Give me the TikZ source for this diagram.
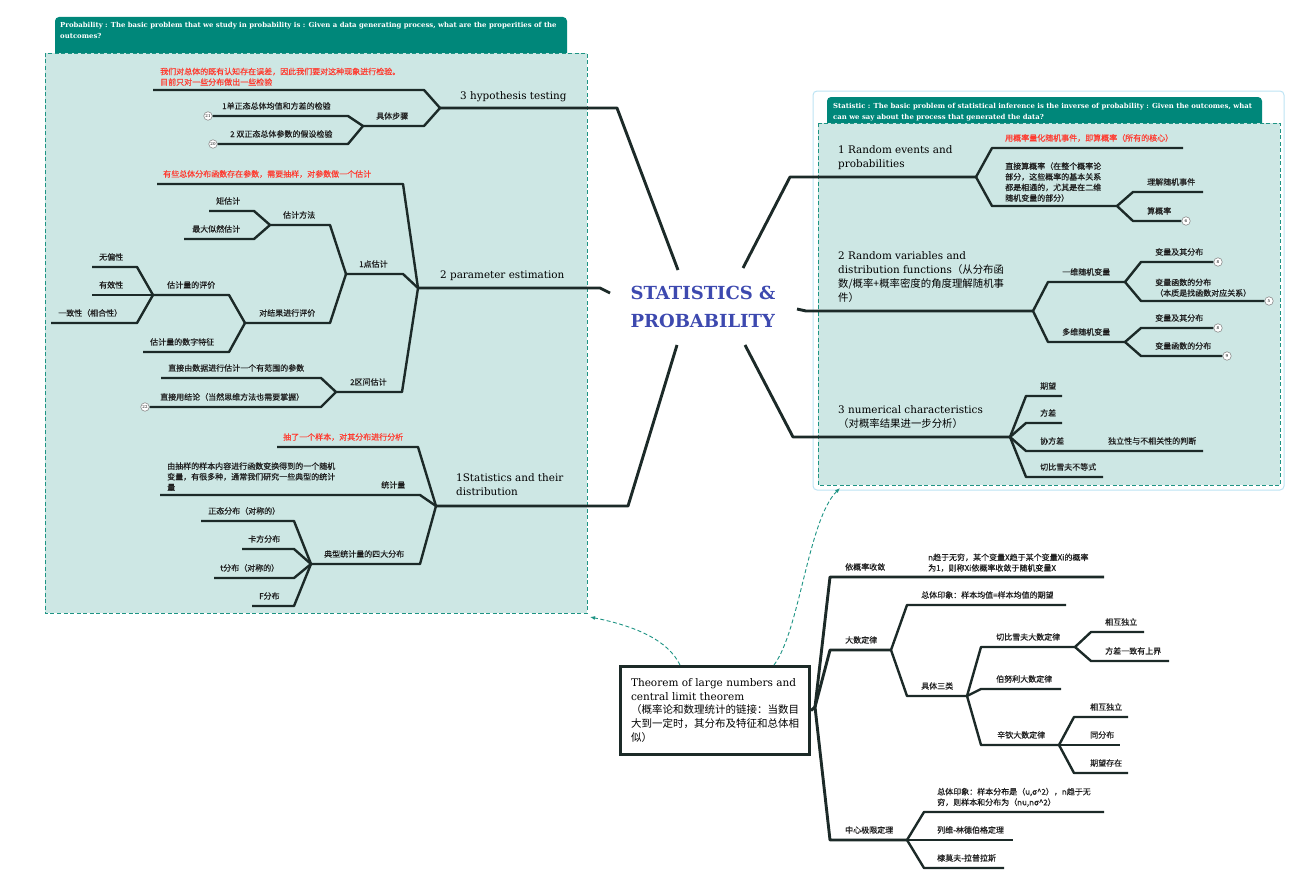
\documentclass[tikz,border=0pt]{standalone}
\usepackage{fontspec}
\setmainfont{DejaVu Serif}
\newfontfamily\cjk{Noto Sans CJK SC}
\newfontfamily\cjkb[FakeBold=0.5]{Noto Sans CJK SC}
\newcommand{\zh}[1]{{\cjk #1}}
\usetikzlibrary{arrows.meta}
\definecolor{linec}{HTML}{1C2A28}
\definecolor{hdrc}{HTML}{00877A}
\definecolor{regc}{HTML}{CDE7E4}
\definecolor{dashc}{HTML}{1E9484}
\definecolor{redt}{HTML}{FF3B30}
\definecolor{titlec}{HTML}{3D49AF}
\definecolor{outc}{HTML}{BDE4F4}
\begin{document}
\begin{tikzpicture}[x=1pt,y=-1pt,
    br/.style={draw=linec,line width=2.4pt,line join=round},
    trunk/.style={br,line width=2.9pt},
    lb/.style={font=\cjkb\fontsize{8}{10.6}\selectfont,text=black!88,anchor=base west,inner sep=0pt,align=left},
    rd/.style={lb,text=redt},
    hd/.style={font=\fontsize{10.4}{14}\selectfont,anchor=base west,inner sep=0pt,align=left},
    hdr/.style={font=\bfseries\fontsize{6.9}{11}\selectfont,text=white,anchor=base west,inner sep=0pt,align=left},
    region/.style={draw=dashc,fill=regc,dash pattern=on 4pt off 2.5pt,line width=0.9pt},
    numc/.style={circle,draw=black!45,fill=white,line width=0.6pt,minimum size=8.5pt,inner sep=0pt,font=\fontsize{4}{4}\selectfont},
    link/.style={draw=dashc,dash pattern=on 4pt off 2.5pt,line width=0.9pt,-{Latex[length=5pt,width=4pt]}}]
\useasboundingbox (0,0) rectangle (1303,883);
\fill[hdrc,rounded corners=4pt] (55,60) rectangle (567,17);
\draw[region] (45,53) rectangle (587,613);
\node[hdr] (probhdr) at (60,39) {Probability : The basic problem that we study in probability is : Given a data generating process, what are the properities of the\\outcomes?};
\draw[outc,fill=white,rounded corners=4pt,line width=1pt] (813,91) rectangle (1284,490);
\fill[hdrc,rounded corners=4pt] (827,130) rectangle (1262,97);
\draw[region] (818,123) rectangle (1280,485);
\node[hdr] (stathdr) at (833,119) {Statistic : The basic problem of statistical inference is the inverse of probability : Given the outcomes, what\\can we say about the process that generated the data?};

\node[font=\bfseries\fontsize{18}{28}\selectfont,text=titlec,align=left] (root) at (703,307) {STATISTICS \&\\PROBABILITY};
\coordinate (rA) at (678,270);
\coordinate (rB) at (610,293);
\coordinate (rC) at (677,345);
\coordinate (rD) at (743,268);
\coordinate (rE) at (797,309);
\coordinate (rF) at (745,345);

\coordinate (j3) at (440,108);
\coordinate (j3b) at (363,126);
\draw[trunk] (rA) -- (617,108) -- (j3);
\draw[br] (j3) -- (424,90) -- (153,90);
\draw[br] (j3) -- (424,126) -- (j3b);
\node[numc] (n21) at (208,116) {21};
\node[numc] (n20) at (213,144) {20};
\draw[br] (j3b) -- (348,116) -- (n21);
\draw[br] (j3b) -- (348,144) -- (n20);
\node[hd] (t3) at (460,99) {3 hypothesis testing};
\node[rd,anchor=south west] (t3r) at (160,86) {我们对总体的既有认知存在误差，因此我们要对这种现象进行检验。\\目前只对一些分布做出一些检验};
\node[lb] (t3s) at (376,119) {具体步骤};
\node[lb] (t3a) at (222,109) {1单正态总体均值和方差的检验};
\node[lb] (t3b) at (230,137) {2 双正态总体参数的假设检验};

\coordinate (j2) at (418,288);
\coordinate (j21) at (346,274);
\coordinate (j211) at (270,225);
\coordinate (j212) at (245,323);
\coordinate (j2121) at (153,295);
\coordinate (j22) at (336,392);
\draw[trunk] (rB) -- (600,288) -- (j2);
\draw[br] (j2) -- (403,184) -- (157,184);
\draw[br] (j2) -- (403,274) -- (j21);
\draw[br] (j2) -- (402,392) -- (j22);
\draw[br] (j21) -- (330,225) -- (j211);
\draw[br] (j211) -- (254,211) -- (209,211);
\draw[br] (j211) -- (254,239) -- (184,239);
\draw[br] (j21) -- (330,323) -- (j212);
\draw[br] (j212) -- (229,295) -- (j2121);
\draw[br] (j2121) -- (137,267) -- (92,267);
\draw[br] (j2121) -- (92,295);
\draw[br] (j2121) -- (137,323) -- (51,323);
\draw[br] (j212) -- (229,352) -- (143,352);
\draw[br] (j22) -- (321,378) -- (161,378);
\node[numc] (n22) at (145,407) {22};
\draw[br] (j22) -- (321,407) -- (n22);
\node[hd] (t2) at (440,278) {2 parameter estimation};
\node[rd] (t2r) at (163,177) {有些总体分布函数存在参数，需要抽样，对参数做一个估计};
\node[lb] (t21) at (359,267) {1点估计};
\node[lb] (t211) at (283,218) {估计方法};
\node[lb] (t2111) at (216,204) {矩估计};
\node[lb] (t2112) at (192,232) {最大似然估计};
\node[lb] (t212) at (259,316) {对结果进行评价};
\node[lb] (t2121) at (167,288) {估计量的评价};
\node[lb] (tub) at (99,260) {无偏性};
\node[lb] (tef) at (99,288) {有效性};
\node[lb] (tco) at (58,316) {一致性（相合性）};
\node[lb] (t2122) at (150,345) {估计量的数字特征};
\node[lb] (t22) at (350,385) {2区间估计};
\node[lb] (t221) at (168,371) {直接由数据进行估计一个有范围的参数};
\node[lb] (t222) at (160,400) {直接用结论（当然思维方法也需要掌握）};

\coordinate (j1) at (436,506);
\coordinate (j13) at (311,564);
\draw[trunk] (rC) -- (628,506) -- (j1);
\draw[br] (j1) -- (418,447) -- (277,447);
\draw[br] (j1) -- (420,495) -- (160,495);
\draw[br] (j1) -- (420,564) -- (j13);
\draw[br] (j13) -- (294,521) -- (201,521);
\draw[br] (j13) -- (294,549) -- (242,549);
\draw[br] (j13) -- (294,578) -- (214,578);
\draw[br] (j13) -- (294,606) -- (252,606);
\node[hd] (t1) at (456,495) {1Statistics and their\\distribution};
\node[rd] (t1r) at (283,440) {抽了一个样本，对其分布进行分析};
\node[lb] (t11) at (381,488) {统计量};
\node[lb,anchor=south west] (t11d) at (167,491) {由抽样的样本内容进行函数变换得到的一个随机\\变量，有很多种，通常我们研究一些典型的统计\\量};
\node[lb] (t13) at (324,557) {典型统计量的四大分布};
\node[lb] (t131) at (208,514) {正态分布（对称的）};
\node[lb] (t132) at (248,542) {卡方分布};
\node[lb] (t133) at (220,571) {t分布（对称的）};
\node[lb] (t134) at (259,599) {F分布};

\coordinate (k1) at (976,177);
\coordinate (k12) at (1117,206);
\draw[trunk] (rD) -- (790,177) -- (k1);
\draw[br] (k1) -- (992,148) -- (1183,148);
\draw[br] (k1) -- (992,206) -- (k12);
\draw[br] (k12) -- (1133,192) -- (1203,192);
\node[numc] (n6) at (1186,221) {6};
\draw[br] (k12) -- (1133,221) -- (n6);
\node[hd] (s1) at (838,167) {1 Random events and\\probabilities};
\node[rd] (s1r) at (1005,141) {用概率量化随机事件，即算概率（所有的核心）};
\node[lb,anchor=south west] (s12) at (1005,202) {直接算概率（在整个概率论\\部分，这些概率的基本关系\\都是相通的，尤其是在二维\\随机变量的部分）};
\node[lb] (s121) at (1147,185) {理解随机事件};
\node[lb] (s122) at (1147,214) {算概率};

\coordinate (k2) at (1033,311);
\coordinate (k21) at (1125,282);
\coordinate (k22) at (1125,342);
\draw[trunk] (rE) -- (806,311) -- (k2);
\draw[br] (k2) -- (1048,282) -- (k21);
\draw[br] (k2) -- (1048,342) -- (k22);
\node[numc] (n8a) at (1218,262) {8};
\node[numc] (n5) at (1269,301) {5};
\node[numc] (n8b) at (1218,328) {8};
\node[numc] (n9) at (1227,356) {9};
\draw[br] (k21) -- (1141,262) -- (n8a);
\draw[br] (k21) -- (1141,301) -- (n5);
\draw[br] (k22) -- (1141,328) -- (n8b);
\draw[br] (k22) -- (1141,356) -- (n9);
\node[hd] (s2) at (838,301) {2 Random variables and\\distribution functions\zh{（从分布函}\\\zh{数/概率+概率密度的角度理解随机事}\\\zh{件）}};
\node[lb] (s21) at (1062,275) {一维随机变量};
\node[lb] (s211) at (1155,255) {变量及其分布};
\node[lb,anchor=south west] (s212) at (1155,297) {变量函数的分布\\（本质是找函数对应关系）};
\node[lb] (s22) at (1062,335) {多维随机变量};
\node[lb] (s221) at (1155,321) {变量及其分布};
\node[lb] (s222) at (1155,349) {变量函数的分布};

\coordinate (k3) at (1010,437);
\coordinate (k33) at (1070,451);
\draw[trunk] (rF) -- (793,437) -- (k3);
\draw[br] (k3) -- (1026,396) -- (1062,396);
\draw[br] (k3) -- (1026,423) -- (1062,423);
\draw[br] (k3) -- (1026,451) -- (k33) -- (1203,451);
\draw[br] (k3) -- (1026,477) -- (1103,477);
\node[hd] (s3) at (838,427) {3 numerical characteristics\\\zh{（对概率结果进一步分析）}};
\node[lb] (s31) at (1040,389) {期望};
\node[lb] (s32) at (1040,416) {方差};
\node[lb] (s33) at (1040,444) {协方差};
\node[lb] (s331) at (1108,444) {独立性与不相关性的判断};
\node[lb] (s34) at (1040,470) {切比雪夫不等式};

\node[draw=linec,line width=3pt,fill=white,anchor=north west,minimum width=189pt,minimum height=88pt,align=left,inner sep=0pt,font=\fontsize{10.5}{13.8}\selectfont] (thm) at (619,665) {Theorem of large numbers and\\central limit theorem\\\zh{（概率论和数理统计的链接：当数目}\\\zh{大到一定时，其分布及特征和总体相}\\\zh{似）}};
\coordinate (lcorner) at (590,617);
\coordinate (rcorner) at (840,488);
\draw[link] ([xshift=61pt]thm.north west) .. controls (668,640) and (635,626) .. (lcorner);
\draw[link] ([xshift=155pt]thm.north west) .. controls (800,630) and (808,520) .. (rcorner);

\coordinate (m0) at (815,707);
\coordinate (m2) at (891,650);
\coordinate (m22) at (967,696);
\coordinate (m221) at (1075,647);
\coordinate (m223) at (1059,745);
\coordinate (m3) at (907,840);
\draw[trunk] (thm.east) -- (m0);
\draw[trunk] (m0) -- (830,577) -- (1104,577);
\draw[trunk] (m0) -- (830,650) -- (m2);
\draw[trunk] (m0) -- (830,840) -- (m3);
\draw[br] (m2) -- (907,605) -- (1066,605);
\draw[br] (m2) -- (907,696) -- (m22);
\draw[br] (m22) -- (981,647) -- (m221);
\draw[br] (m221) -- (1091,632) -- (1144,632);
\draw[br] (m221) -- (1091,661) -- (1169,661);
\draw[br] (m22) -- (981,689) -- (1061,689);
\draw[br] (m22) -- (981,745) -- (m223);
\draw[br] (m223) -- (1074,717) -- (1128,717);
\draw[br] (m223) -- (1120,745);
\draw[br] (m223) -- (1074,773) -- (1128,773);
\draw[br] (m3) -- (924,812) -- (1104,812);
\draw[br] (m3) -- (1013,840);
\draw[br] (m3) -- (924,868) -- (1004,868);
\node[lb] (u1) at (845,570) {依概率收敛};
\node[lb,anchor=south west] (u1d) at (928,572) {n趋于无穷，某个变量X趋于某个变量Xi的概率\\为1，则称Xi依概率收敛于随机变量X};
\node[lb] (u2) at (845,643) {大数定律};
\node[lb] (u21) at (921,598) {总体印象：样本均值=样本均值的期望};
\node[lb] (u22) at (921,689) {具体三类};
\node[lb] (u221) at (996,640) {切比雪夫大数定律};
\node[lb] (u2211) at (1105,625) {相互独立};
\node[lb] (u2212) at (1105,654) {方差一致有上界};
\node[lb] (u222) at (996,682) {伯努利大数定律};
\node[lb] (u223) at (997,738) {辛钦大数定律};
\node[lb] (u2231) at (1090,710) {相互独立};
\node[lb] (u2232) at (1090,738) {同分布};
\node[lb] (u2233) at (1090,766) {期望存在};
\node[lb] (u3) at (845,833) {中心极限定理};
\node[lb,anchor=south west] (u31) at (937,807) {总体印象：样本分布是（u,σ\textasciicircum 2），n趋于无\\穷，则样本和分布为（nu,nσ\textasciicircum 2）};
\node[lb] (u32) at (937,833) {列维-林德伯格定理};
\node[lb] (u33) at (937,861) {棣莫夫-拉普拉斯};
\end{tikzpicture}
\end{document}
